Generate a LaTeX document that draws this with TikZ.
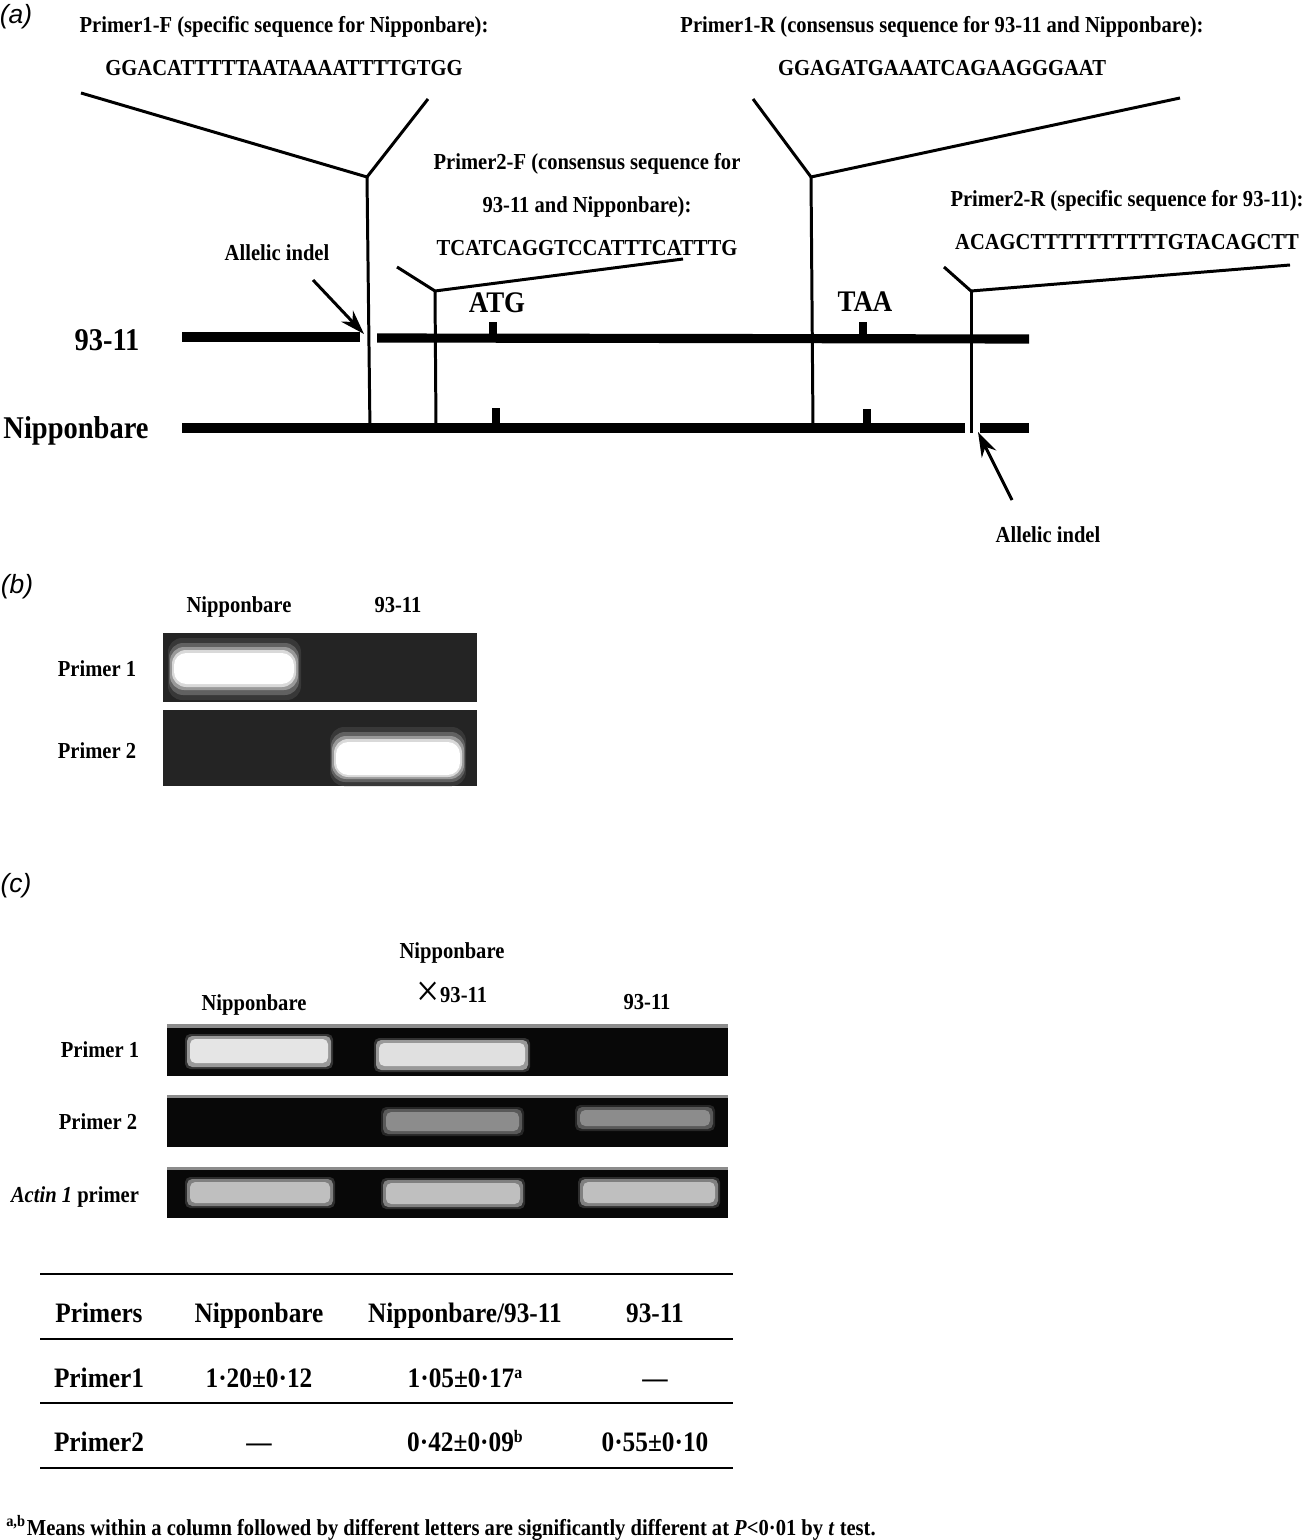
\documentclass[tikz,border=0pt]{standalone}
\usepackage{fontspec}
\setmainfont{Liberation Serif}[FakeStretch=0.9]
\newfontfamily\labfont{Liberation Sans}
\usepackage{tikz}
\usetikzlibrary{shapes,arrows,arrows.meta}
\definecolor{gelb}{HTML}{242424}
\definecolor{gelc}{HTML}{080808}
\tikzstyle{panel} = [font=\fontsize{7.5}{9}\selectfont\labfont\itshape, inner sep=0pt, text height=5.6pt, text depth=1.6pt]
\tikzstyle{seqtext} = [font=\fontsize{6.5}{7}\selectfont\bfseries, inner sep=0pt, text height=4.3pt, text depth=0pt]
\tikzstyle{strain} = [font=\fontsize{9}{10}\selectfont\bfseries, inner sep=0pt, text height=6pt, text depth=0pt]
\tikzstyle{codon} = [font=\fontsize{8.5}{9}\selectfont\bfseries, inner sep=0pt, text height=5.6pt, text depth=0pt]
\tikzstyle{tabtext} = [font=\fontsize{8}{9}\selectfont\bfseries, inner sep=0pt, text height=5.3pt, text depth=0pt]
\tikzstyle{note} = [font=\fontsize{6.5}{7}\selectfont\bfseries, inner sep=0pt, text height=4.3pt, text depth=0pt]
\tikzstyle{chrom} = [line width=2.6pt]
\tikzstyle{primer} = [line width=0.85pt]
\tikzstyle{arrow} = [line width=0.85pt,->,>={Stealth[length=7pt,width=4.6pt]}]
\tikzstyle{rule} = [line width=0.7pt]
\newcommand{\supl}[1]{\raisebox{2.6pt}{\fontsize{5}{5}\selectfont #1}}
\begin{document}
\begin{tikzpicture}[x=0.01cm, y=-0.01cm, node distance=0.43cm]
        \useasboundingbox (0,0) rectangle (1306,1540);
        % (a)
        \node (pa) [panel] at (16,16) {(a)};
        \node (p1f) [seqtext] at (284,25) {Primer1-F (specific sequence for Nipponbare):};
        \node (s1f) [seqtext, below of=p1f] {GGACATTTTTAATAAAATTTTGTGG};
        \node (p1r) [seqtext] at (942,25) {Primer1-R (consensus sequence for 93-11 and Nipponbare):};
        \node (s1r) [seqtext, below of=p1r] {GGAGATGAAATCAGAAGGGAAT};
        \node (p2f) [seqtext] at (587,162) {Primer2-F (consensus sequence for};
        \node (p2fb) [seqtext, below of=p2f] {93-11 and Nipponbare):};
        \node (s2f) [seqtext, below of=p2fb] {TCATCAGGTCCATTTCATTTG};
        \node (p2r) [seqtext] at (1127,199) {Primer2-R (specific sequence for 93-11):};
        \node (s2r) [seqtext, below of=p2r] {ACAGCTTTTTTTTTTGTACAGCTT};
        \node (indel1) [seqtext] at (277,253) {Allelic indel};
        \node (indel2) [seqtext] at (1048,535) {Allelic indel};
        \node (atg) [codon] at (497,303) {ATG};
        \node (taa) [codon] at (865,302) {TAA};
        \node (l9311) [strain] at (107,340) {93-11};
        \node (lnip) [strain] at (76,428) {Nipponbare};
        \coordinate (j1) at (367,177);
        \coordinate (j2) at (435,291);
        \coordinate (j3) at (811,177);
        \coordinate (j4) at (971,291);
        \coordinate (gap1) at (364,334);
        \coordinate (gap2) at (978,432);
        \coordinate (tail1) at (313,280);
        \coordinate (tail2) at (1012,500);
        \draw [chrom] (182,337) -- (360,337);
        \draw [chrom] (377,338) -- (1029,339);
        \draw [chrom] (182,428) -- (965,428);
        \draw [chrom] (980,428) -- (1029,428);
        \fill (489,322) rectangle (497,338);
        \fill (492,408) rectangle (500,428);
        \fill (859,322) rectangle (867,339);
        \fill (863,409) rectangle (871,428);
        \draw [primer] (81,93) -- (j1) -- (428,99);
        \draw [primer] (j1) -- (370,432);
        \draw [primer] (397,267) -- (j2) -- (683,259);
        \draw [primer] (j2) -- (436,428);
        \draw [primer] (753,99) -- (j3) -- (1180,98);
        \draw [primer] (j3) -- (813,428);
        \draw [primer] (944,267) -- (j4) -- (1290,265);
        \draw [primer] (j4) -- (971,433);
        \draw [arrow] (tail1) -- (gap1);
        \draw [arrow] (tail2) -- (gap2);
        % (b)
        \node (pb) [panel] at (17,586) {(b)};
        \node (bnip) [seqtext] at (239,605) {Nipponbare};
        \node (b9311) [seqtext] at (398,605) {93-11};
        \node (bp1) [seqtext] at (97,669) {Primer 1};
        \node (bp2) [seqtext] at (97,751) {Primer 2};
        \fill [gelb] (163,633) rectangle (477,702);
        \fill [gelb] (163,710) rectangle (477,786);
        \fill [black!78, rounded corners=4pt] (168,638) rectangle (301,700);
        \fill [black!62, rounded corners=4pt] (169,643) rectangle (299,695);
        \fill [black!40, rounded corners=4pt] (170,647) rectangle (298,690);
        \fill [black!15, rounded corners=4pt] (172,650) rectangle (296,687);
        \fill [white, rounded corners=3.5pt] (174,653) rectangle (294,684);
        \fill [black!78, rounded corners=4pt] (330,727) rectangle (466,786);
        \fill [black!62, rounded corners=4pt] (331,732) rectangle (465,782);
        \fill [black!40, rounded corners=4pt] (332,736) rectangle (464,779);
        \fill [black!15, rounded corners=4pt] (334,739) rectangle (462,777);
        \fill [white, rounded corners=3.5pt] (336,742) rectangle (460,775);
        % (c)
        \node (pc) [panel] at (16,885) {(c)};
        \node (cnip) [seqtext] at (254,1003) {Nipponbare};
        \node (cx) [seqtext] at (452,951) {Nipponbare};
        \node (cx2) [seqtext] at (452,995) {\raisebox{-1pt}{\fontsize{13}{13}\selectfont\mdseries ×}93-11};
        \node (c9311) [seqtext] at (647,1002) {93-11};
        \node (cp1) [seqtext] at (100,1050) {Primer 1};
        \node (cp2) [seqtext] at (98,1122) {Primer 2};
        \node (cact) [seqtext] at (75,1195) {\textit{Actin 1} primer};
        \fill [gelc] (167,1027) rectangle (728,1076);
        \fill [gelc] (167,1097) rectangle (728,1147);
        \fill [gelc] (167,1169) rectangle (728,1218);
        \fill [black!45] (167,1024) rectangle (728,1028);
        \fill [black!45] (167,1095) rectangle (728,1098);
        \fill [black!45] (167,1167) rectangle (728,1170);
        \fill [black!80, rounded corners=1.5pt] (185,1034) rectangle (333,1069);
        \fill [black!40, rounded corners=1.5pt] (187,1036) rectangle (331,1067);
        \fill [black!10, rounded corners=1.5pt] (190,1039) rectangle (328,1063);
        \fill [black!80, rounded corners=1.5pt] (374,1038) rectangle (530,1072);
        \fill [black!40, rounded corners=1.5pt] (376,1040) rectangle (528,1070);
        \fill [black!12, rounded corners=1.5pt] (379,1043) rectangle (525,1066);
        \fill [black!85, rounded corners=1.5pt] (381,1107) rectangle (524,1136);
        \fill [black!65, rounded corners=1.5pt] (383,1109) rectangle (522,1134);
        \fill [black!45, rounded corners=1.5pt] (386,1112) rectangle (519,1131);
        \fill [black!85, rounded corners=1.5pt] (575,1105) rectangle (715,1131);
        \fill [black!65, rounded corners=1.5pt] (577,1107) rectangle (713,1129);
        \fill [black!45, rounded corners=1.5pt] (580,1110) rectangle (710,1126);
        \fill [black!82, rounded corners=1.5pt] (185,1177) rectangle (335,1208);
        \fill [black!50, rounded corners=1.5pt] (187,1179) rectangle (333,1206);
        \fill [black!25, rounded corners=1.5pt] (190,1182) rectangle (330,1203);
        \fill [black!82, rounded corners=1.5pt] (381,1178) rectangle (525,1209);
        \fill [black!50, rounded corners=1.5pt] (383,1180) rectangle (523,1207);
        \fill [black!25, rounded corners=1.5pt] (386,1183) rectangle (520,1204);
        \fill [black!82, rounded corners=1.5pt] (578,1177) rectangle (720,1208);
        \fill [black!50, rounded corners=1.5pt] (580,1179) rectangle (718,1206);
        \fill [black!25, rounded corners=1.5pt] (583,1182) rectangle (715,1203);
        % table
        \draw [rule] (40,1274) -- (733,1274);
        \draw [rule] (40,1339) -- (733,1339);
        \draw [rule] (40,1403) -- (733,1403);
        \draw [rule] (40,1468) -- (733,1468);
        \node (h1) [tabtext] at (99,1313) {Primers};
        \node (h2) [tabtext] at (259,1313) {Nipponbare};
        \node (h3) [tabtext] at (465,1313) {Nipponbare/93-11};
        \node (h4) [tabtext] at (655,1313) {93-11};
        \node (r1a) [tabtext] at (99,1378) {Primer1};
        \node (r1b) [tabtext] at (259,1378) {1·20±0·12};
        \node (r1c) [tabtext] at (465,1378) {1·05±0·17\supl{a}};
        \node (r1d) [tabtext] at (655,1378) {—};
        \node (r2a) [tabtext] at (99,1442) {Primer2};
        \node (r2b) [tabtext] at (259,1442) {—};
        \node (r2c) [tabtext] at (465,1442) {0·42±0·09\supl{b}};
        \node (r2d) [tabtext] at (655,1442) {0·55±0·10};
        \node (foot) [note] at (441,1528) {\textsuperscript{a,b}Means within a column followed by different letters are significantly different at \textit{P}<0·01 by \textit{t} test.};
    \end{tikzpicture}
\end{document}
